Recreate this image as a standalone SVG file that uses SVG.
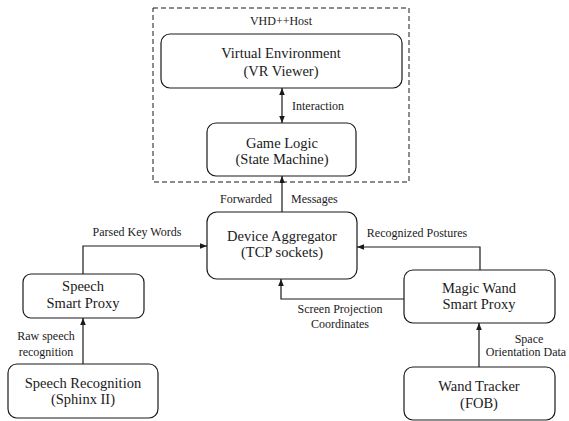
<svg xmlns="http://www.w3.org/2000/svg" width="569" height="421" viewBox="0 0 569 421">
<defs>
<marker id="ah" viewBox="0 0 10 10" refX="10" refY="5" markerWidth="7" markerHeight="7" orient="auto-start-reverse" markerUnits="userSpaceOnUse">
<path d="M0,1 L10,5 L0,9 Z" fill="#1a1a1a"/>
</marker>
</defs>
<style>
.node rect{fill:#fff;stroke:#1a1a1a;stroke-width:1.2}
.c{fill:none;stroke:#1a1a1a;stroke-width:1.2}
</style>
<rect width="569" height="421" fill="#fff"/>
<g id="host">
<rect x="153" y="8" width="256" height="174" fill="none" stroke="#1a1a1a" stroke-width="1" stroke-dasharray="5,3"/>
<text font-family="Liberation Serif, serif" font-size="12" fill="#1a1a1a" x="281" y="25" text-anchor="middle">VHD++Host</text>
</g>
<g id="ve" class="node">
<rect x="161" y="34" width="241" height="54" rx="9"/>
<text font-family="Liberation Serif, serif" font-size="14.5" fill="#1a1a1a" text-anchor="middle" x="281" y="58">Virtual Environment</text>
<text font-family="Liberation Serif, serif" font-size="14.5" fill="#1a1a1a" text-anchor="middle" x="281" y="76">(VR Viewer)</text>
</g>
<g id="gl" class="node">
<rect x="207" y="123" width="149" height="53" rx="9"/>
<text font-family="Liberation Serif, serif" font-size="14.5" fill="#1a1a1a" text-anchor="middle" x="282" y="148">Game Logic</text>
<text font-family="Liberation Serif, serif" font-size="14.5" fill="#1a1a1a" text-anchor="middle" x="282" y="164">(State Machine)</text>
</g>
<g id="da" class="node">
<rect x="207" y="212" width="150" height="67" rx="10"/>
<text font-family="Liberation Serif, serif" font-size="14.5" fill="#1a1a1a" text-anchor="middle" x="282" y="241">Device Aggregator</text>
<text font-family="Liberation Serif, serif" font-size="14.5" fill="#1a1a1a" text-anchor="middle" x="282" y="257">(TCP sockets)</text>
</g>
<g id="ssp" class="node">
<rect x="23" y="274" width="121" height="44" rx="8"/>
<text font-family="Liberation Serif, serif" font-size="14.5" fill="#1a1a1a" text-anchor="middle" x="83" y="291">Speech</text>
<text font-family="Liberation Serif, serif" font-size="14.5" fill="#1a1a1a" text-anchor="middle" x="83" y="308">Smart Proxy</text>
</g>
<g id="sr" class="node">
<rect x="8" y="364" width="150" height="54" rx="9"/>
<text font-family="Liberation Serif, serif" font-size="14.5" fill="#1a1a1a" text-anchor="middle" x="83" y="388">Speech Recognition</text>
<text font-family="Liberation Serif, serif" font-size="14.5" fill="#1a1a1a" text-anchor="middle" x="83" y="404">(Sphinx II)</text>
</g>
<g id="mw" class="node">
<rect x="404" y="270" width="151" height="53" rx="9"/>
<text font-family="Liberation Serif, serif" font-size="14.5" fill="#1a1a1a" text-anchor="middle" x="479" y="293">Magic Wand</text>
<text font-family="Liberation Serif, serif" font-size="14.5" fill="#1a1a1a" text-anchor="middle" x="479" y="309">Smart Proxy</text>
</g>
<g id="wt" class="node">
<rect x="404" y="367" width="151" height="53" rx="9"/>
<text font-family="Liberation Serif, serif" font-size="14.5" fill="#1a1a1a" text-anchor="middle" x="479" y="391">Wand Tracker</text>
<text font-family="Liberation Serif, serif" font-size="14.5" fill="#1a1a1a" text-anchor="middle" x="479" y="408">(FOB)</text>
</g>
<g id="connectors">
<path class="c" d="M282,88 V123" marker-start="url(#ah)" marker-end="url(#ah)"/>
<text font-family="Liberation Serif, serif" font-size="12" fill="#1a1a1a" x="292" y="110">Interaction</text>
<path class="c" d="M282,212 V176" marker-end="url(#ah)"/>
<text font-family="Liberation Serif, serif" font-size="12" fill="#1a1a1a" x="272" y="203" text-anchor="end">Forwarded</text>
<text font-family="Liberation Serif, serif" font-size="12" fill="#1a1a1a" x="291" y="203">Messages</text>
<path class="c" d="M83,274 V246 H207" marker-end="url(#ah)"/>
<text font-family="Liberation Serif, serif" font-size="12" fill="#1a1a1a" x="137" y="236" text-anchor="middle">Parsed Key Words</text>
<path class="c" d="M83,364 V318" marker-end="url(#ah)"/>
<text font-family="Liberation Serif, serif" font-size="12" fill="#1a1a1a" x="46" y="340" text-anchor="middle">Raw speech</text>
<text font-family="Liberation Serif, serif" font-size="12" fill="#1a1a1a" x="46" y="356" text-anchor="middle">recognition</text>
<path class="c" d="M480,270 V247 H357" marker-end="url(#ah)"/>
<text font-family="Liberation Serif, serif" font-size="12" fill="#1a1a1a" x="417" y="237" text-anchor="middle">Recognized Postures</text>
<path class="c" d="M404,299 H281 V279" marker-end="url(#ah)"/>
<text font-family="Liberation Serif, serif" font-size="12" fill="#1a1a1a" x="340" y="313" text-anchor="middle">Screen Projection</text>
<text font-family="Liberation Serif, serif" font-size="12" fill="#1a1a1a" x="340" y="328" text-anchor="middle">Coordinates</text>
<path class="c" d="M479,367 V323" marker-end="url(#ah)"/>
<text font-family="Liberation Serif, serif" font-size="12" fill="#1a1a1a" x="529" y="343" text-anchor="middle">Space</text>
<text font-family="Liberation Serif, serif" font-size="12" fill="#1a1a1a" x="526" y="356" text-anchor="middle">Orientation Data</text>
</g>
</svg>
